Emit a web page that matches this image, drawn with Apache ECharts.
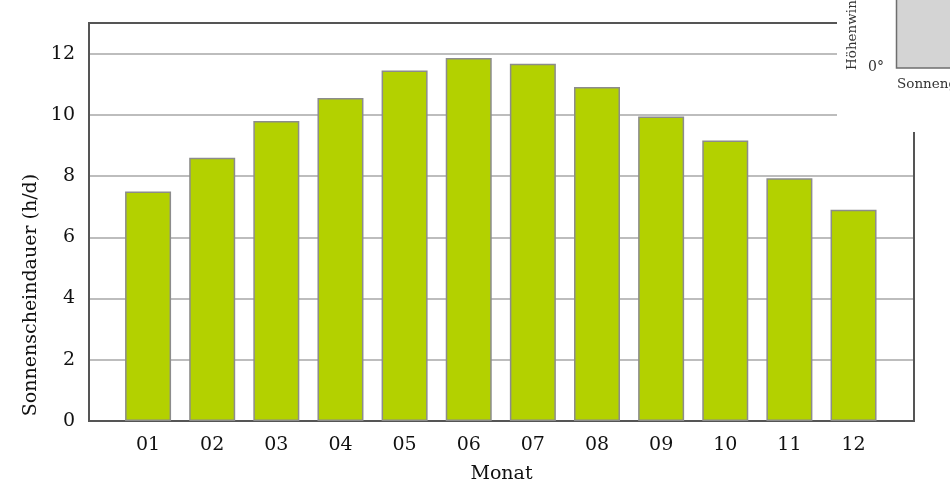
<!DOCTYPE html>
<html>
<head>
<meta charset="utf-8">
<script src="https://cdn.jsdelivr.net/npm/echarts@6/dist/echarts.min.js"></script>
<style>html,body{margin:0;padding:0;background:#fff}#c{width:950px;height:499px}</style>
</head>
<body>
<div id="c"></div>
<script>
var months = ['01','02','03','04','05','06','07','08','09','10','11','12'];
var sunshine = [7.5, 8.6, 9.8, 10.55, 11.45, 11.86, 11.67, 10.91, 9.95, 9.16, 7.93, 6.9];
var yTicks = [0, 2, 4, 6, 8, 10, 12];
var yTitle = 'Sonnenscheindauer (h/d)';
var xTitle = 'Monat';
var insetTexts = { yLabel: 'Höhenwinkel', zero: '0°', xLabel: 'Sonnengang' };

var FONT = 'DejaVu Serif';
var TXT = '#111';
var chart = echarts.init(document.getElementById('c'), null, {renderer: 'canvas'});
chart.setOption({
  animation: false,
  backgroundColor: '#fff',
  grid: [
    {left: 89, right: 36, top: 23, bottom: 78, show: true, borderColor: '#555', borderWidth: 2, backgroundColor: 'transparent', z: 1},
    {left: 116, right: 64.4, top: 23, bottom: 78, show: false}
  ],
  xAxis: [
    {type: 'value', gridIndex: 0, min: 0, max: 1, show: true,
     axisLine: {show: false}, axisTick: {show: false}, axisLabel: {show: false}, splitLine: {show: false},
     name: xTitle, nameLocation: 'middle', nameGap: 44,
     nameTextStyle: {fontFamily: FONT, fontSize: 19, color: TXT}},
    {type: 'category', gridIndex: 1, data: months,
     axisLine: {show: false}, axisTick: {show: false},
     axisLabel: {fontFamily: FONT, fontSize: 19, color: TXT, margin: 15}}
  ],
  yAxis: [
    {type: 'value', gridIndex: 0, min: 0, max: 13, interval: 2,
     axisLine: {show: false}, axisTick: {show: false},
     axisLabel: {fontFamily: FONT, fontSize: 19, color: TXT, margin: 14,
       customValues: yTicks},
     splitLine: {show: true, lineStyle: {color: '#bdbdbd', width: 2}}},
    {type: 'value', gridIndex: 1, min: 0, max: 13, show: false}
  ],
  series: [{
    type: 'bar', xAxisIndex: 1, yAxisIndex: 1, data: sunshine, barWidth: 46,
    itemStyle: {color: '#b3d100', borderColor: '#8c8c8c', borderWidth: 1.5},
    z: 3
  }],
  graphic: [
    {type: 'text', z: 50, x: 31, y: 295, rotation: Math.PI / 2,
     style: {text: yTitle, font: '19px "DejaVu Serif"', fill: TXT, align: 'center', verticalAlign: 'middle'}},
    {type: 'rect', z: 100, shape: {x: 837, y: 0, width: 113, height: 132}, style: {fill: '#fff'}},
    {type: 'rect', z: 101, shape: {x: 896.5, y: -10, width: 70, height: 78}, style: {fill: '#d4d4d4', stroke: '#6e6e6e', lineWidth: 1.5}},
    {type: 'text', z: 102, x: 868, y: 67, style: {text: insetTexts.zero, font: '14px "DejaVu Serif"', fill: '#333', verticalAlign: 'middle'}},
    {type: 'text', z: 102, x: 897, y: 84, style: {text: insetTexts.xLabel, font: '13.5px "DejaVu Serif"', fill: '#333', verticalAlign: 'middle'}},
    {type: 'text', z: 102, x: 852, y: 70, rotation: Math.PI / 2, style: {text: insetTexts.yLabel, font: '13.5px "DejaVu Serif"', fill: '#333', verticalAlign: 'middle', align: 'left'}}
  ]
});
</script>
</body>
</html>
